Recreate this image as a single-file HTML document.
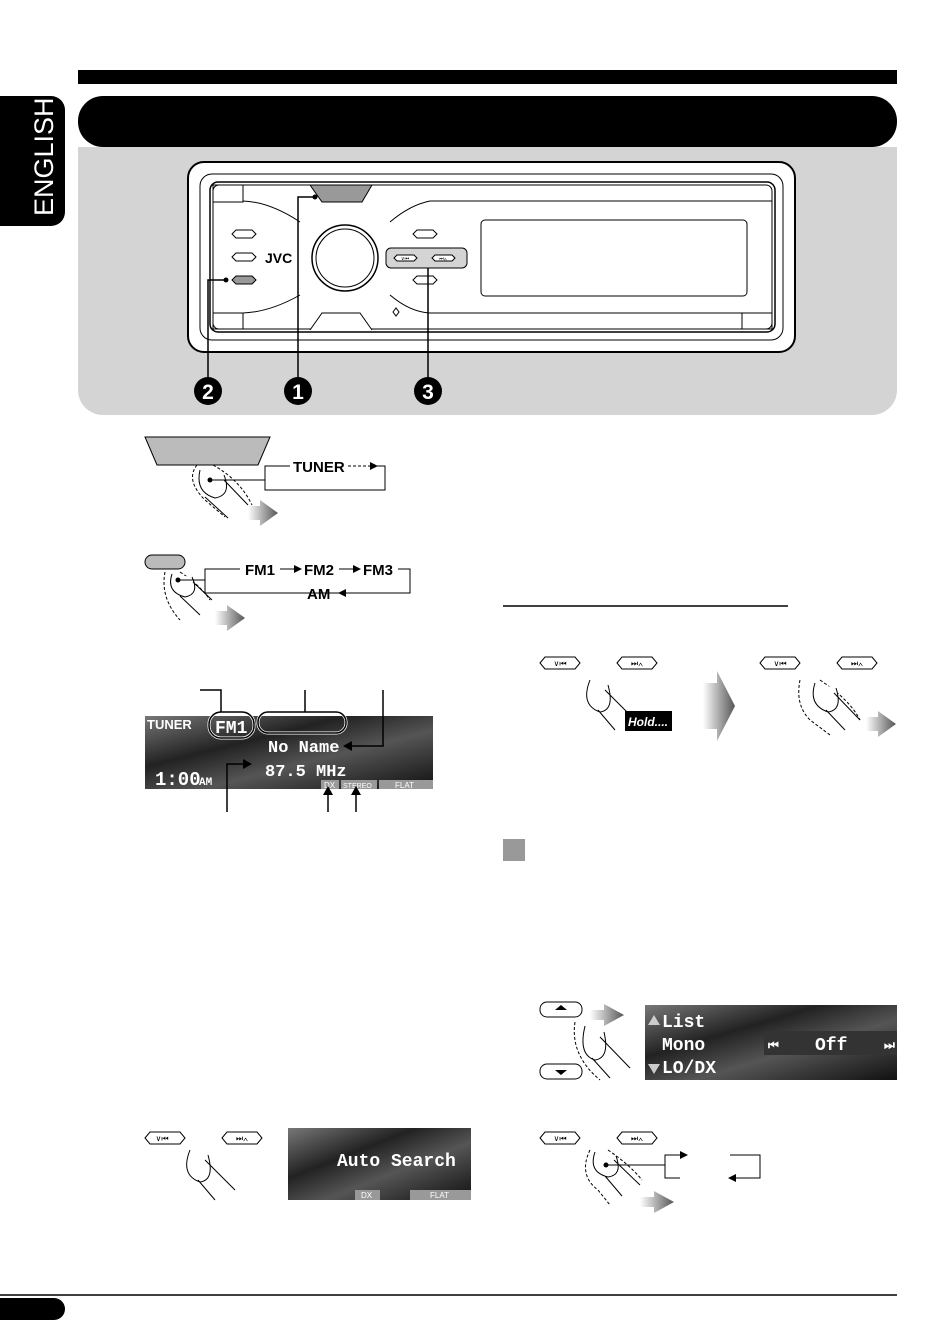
<!DOCTYPE html>
<html><head><style>
html,body{margin:0;padding:0;background:#fff;}
svg{display:block;font-family:"Liberation Sans",sans-serif;}
.d{font-family:"Liberation Mono",monospace;font-weight:bold;fill:#fff;}
</style></head><body>
<svg width="950" height="1344" viewBox="0 0 950 1344" xmlns="http://www.w3.org/2000/svg">
<defs>
<linearGradient id="lcd" x1="0" y1="0" x2="1" y2="1">
<stop offset="0" stop-color="#777"/><stop offset="0.35" stop-color="#222"/><stop offset="0.6" stop-color="#555"/><stop offset="1" stop-color="#111"/>
</linearGradient>
<linearGradient id="ar" x1="0" x2="1"><stop offset="0" stop-color="#fff"/><stop offset="1" stop-color="#555"/></linearGradient>
</defs>
<rect x="78" y="70" width="819" height="14" fill="#000"/>
<rect x="78" y="96" width="819" height="51" rx="25" fill="#000"/>
<rect x="0" y="96" width="65" height="130" rx="14" fill="#000"/>
<rect x="0" y="96" width="20" height="130" fill="#000"/>
<text x="0" y="0" transform="translate(53,216) rotate(-90)" fill="#fff" font-size="27">ENGLISH</text>
<path d="M78 147 H897 V390 a25 25 0 0 1 -25 25 H103 a25 25 0 0 1 -25 -25 Z" fill="#d4d4d4"/>
<rect x="188" y="162" width="607" height="190" rx="16" fill="#fff" stroke="#000" stroke-width="2"/>
<rect x="200" y="174" width="583" height="166" rx="12" fill="none" stroke="#000" stroke-width="1"/>
<rect x="210" y="182" width="565" height="150" rx="8" fill="none" stroke="#000" stroke-width="1.5"/>
<rect x="213" y="185" width="559" height="144" rx="6" fill="none" stroke="#000" stroke-width="1"/>
<rect x="213" y="185" width="30" height="17" fill="none" stroke="#000"/>
<rect x="213" y="313" width="30" height="16" fill="none" stroke="#000"/>
<rect x="742" y="313" width="30" height="16" fill="none" stroke="#000"/>
<path d="M243 201 Q270 202 300 222 M243 313 Q270 312 300 295 M390 222 Q410 205 430 201 H772 M390 295 Q410 312 430 313 H742" fill="none" stroke="#000"/>
<path d="M310 185 H372 L362 202 H322 Z" fill="#999" stroke="#000"/>
<path d="M310 330 L322 313 H360 L372 330" fill="#fff" stroke="#000"/>
<circle cx="345" cy="258" r="33" fill="#fff" stroke="#000" stroke-width="1.5"/>
<circle cx="345" cy="258" r="29" fill="none" stroke="#000"/>
<rect x="481" y="220" width="266" height="76" rx="4" fill="#fff" stroke="#000"/>
<path d="M232 234 l4 -4 h16 l4 4 l-4 4 h-16 z M232 257 l4 -4 h16 l4 4 l-4 4 h-16 z M413 234 l4 -4 h16 l4 4 l-4 4 h-16 z M413 280 l4 -4 h16 l4 4 l-4 4 h-16 z" fill="#fff" stroke="#000"/>
<path d="M232 280 l4 -4 h16 l4 4 l-4 4 h-16 z" fill="#999" stroke="#000"/>
<text x="265" y="263" font-size="14" font-weight="bold">JVC</text>
<rect x="386" y="248" width="81" height="20" rx="5" fill="#d4d4d4" stroke="#000"/>
<path d="M394 258 l3 -3 h17 l3 3 l-3 3 h-17 z M432 258 l3 -3 h17 l3 3 l-3 3 h-17 z" fill="#fff" stroke="#000"/>
<g font-size="5" text-anchor="middle"><text x="405" y="260">∨⏮</text><text x="443" y="260">⏭∧</text></g>
<path d="M393 312 l3 -4 l3 4 l-3 4 z" fill="none" stroke="#000"/>
<path d="M208 378 V280 H226 M298 378 V197 H315 M428 378 V268" fill="none" stroke="#000" stroke-width="1.5"/>
<circle cx="226" cy="280" r="2.5"/><circle cx="315" cy="197" r="2.5"/>
<g font-size="21" font-weight="bold" fill="#fff" text-anchor="middle">
<circle cx="208" cy="391" r="14" fill="#000"/><text x="208" y="399">2</text>
<circle cx="298" cy="391" r="14" fill="#000"/><text x="298" y="399">1</text>
<circle cx="428" cy="391" r="14" fill="#000"/><text x="428" y="399">3</text>
</g>
<path d="M145 437 H270 L258 465 H157 Z" fill="#bbb" stroke="#000"/>
<path d="M197 465 Q185 480 205 500 L225 517 M213 465 Q240 480 252 505" fill="none" stroke="#000" stroke-dasharray="3 2"/>
<path d="M200 470 Q195 492 215 498 Q232 495 224 475 M224 480 L248 505 M205 497 L228 518" fill="#fff" stroke="#000"/>
<circle cx="210" cy="480" r="2.5"/>
<path d="M210 480 H265 V466 H290 M265 480 V490 H385 V466 H375" fill="none" stroke="#000"/>
<text x="293" y="472" font-size="15" font-weight="bold">TUNER</text>
<path d="M348 466 H370" stroke="#000" stroke-dasharray="3 2"/><path d="M370 462 l8 4 -8 4z"/>
<path d="M385 466 V490" stroke="#000" stroke-dasharray="3 2"/>
<path d="M248 506 h12 v-6 l18 13 -18 13 v-6 h-12z" fill="url(#ar)"/>
<rect x="145" y="555" width="40" height="14" rx="7" fill="#bbb" stroke="#000"/>
<path d="M165 572 Q160 598 180 620 M180 572 Q200 585 210 600" fill="none" stroke="#000" stroke-dasharray="3 2"/>
<path d="M172 574 Q166 592 185 597 Q200 594 192 577 M193 582 L212 600 M180 596 L200 615" fill="#fff" stroke="#000"/>
<circle cx="178" cy="580" r="2.5"/>
<path d="M178 580 H205 V569 H240 M205 580 V593 H410 V569 H398" fill="none" stroke="#000"/>
<g font-size="15" font-weight="bold"><text x="245" y="575">FM1</text><text x="304" y="575">FM2</text><text x="363" y="575">FM3</text><text x="307" y="599">AM</text></g>
<path d="M280 569 h14" stroke="#000"/><path d="M294 565 l8 4 -8 4z"/>
<path d="M339 569 h14" stroke="#000"/><path d="M353 565 l8 4 -8 4z"/>
<path d="M338 593 l8 -4 v8z" fill="#000"/>
<path d="M215 611 h12 v-6 l18 13 -18 13 v-6 h-12z" fill="url(#ar)"/>
<rect x="145" y="716" width="288" height="73" fill="url(#lcd)"/>
<text x="147" y="729" font-size="13" font-weight="bold" fill="#fff">TUNER</text>
<text x="155" y="785" class="d" font-size="19">1:00</text><text x="199" y="785" class="d" font-size="11">AM</text>
<rect x="209" y="712" width="45" height="26" rx="12" fill="none" stroke="#fff" stroke-width="3"/>
<rect x="209" y="712" width="45" height="26" rx="12" fill="none" stroke="#000" stroke-width="1.5"/>
<text x="215" y="733" class="d" font-size="18">FM1</text>
<rect x="258" y="712" width="88" height="21" rx="10" fill="none" stroke="#fff" stroke-width="3"/>
<rect x="258" y="712" width="88" height="21" rx="10" fill="none" stroke="#000" stroke-width="1.5"/>
<text x="268" y="752" class="d" font-size="17">No Name</text>
<text x="265" y="776" class="d" font-size="17">87.5 MHz</text>
<rect x="321" y="780" width="18" height="9" fill="#999"/><rect x="341" y="780" width="36" height="9" fill="#999"/><rect x="379" y="780" width="54" height="9" fill="#999"/>
<text x="324" y="788" font-size="8" fill="#fff">DX</text><text x="343" y="788" font-size="7" fill="#fff">STEREO</text><text x="395" y="788" font-size="8" fill="#fff">FLAT</text>
<path d="M200 690 H221 V712 M305 690 V712 M383 690 V746 H350 M227 812 V764 H245 M328 812 V792 M356 812 V792" fill="none" stroke="#000" stroke-width="1.5"/>
<path d="M343 746 l9 -5 v10z M252 764 l-9 -5 v10z M328 786 l-5 9 h10z M356 786 l-5 9 h10z" fill="#000"/>
<g fill="#fff" stroke="#000">
<path d="M145 1138 l5 -6 h30 l5 6 l-5 6 h-30 z"/><path d="M222 1138 l5 -6 h30 l5 6 l-5 6 h-30 z"/>
<path d="M540 1138 l5 -6 h30 l5 6 l-5 6 h-30 z"/><path d="M617 1138 l5 -6 h30 l5 6 l-5 6 h-30 z"/>
<path d="M540 663 l5 -6 h30 l5 6 l-5 6 h-30 z"/><path d="M617 663 l5 -6 h30 l5 6 l-5 6 h-30 z"/>
<path d="M760 663 l5 -6 h30 l5 6 l-5 6 h-30 z"/><path d="M837 663 l5 -6 h30 l5 6 l-5 6 h-30 z"/>
<rect x="540" y="1002" width="42" height="15" rx="7"/><rect x="540" y="1064" width="42" height="15" rx="7"/>
</g>
<g font-size="8" text-anchor="middle"><text x="162" y="1141">∨⏮</text><text x="242" y="1141">⏭∧</text><text x="560" y="1141">∨⏮</text><text x="637" y="1141">⏭∧</text><text x="560" y="666">∨⏮</text><text x="637" y="666">⏭∧</text><text x="780" y="666">∨⏮</text><text x="857" y="666">⏭∧</text></g>
<path d="M555 1010 l6 -5 6 5z M555 1070 l6 5 6 -5z"/>
<path d="M190 1150 Q180 1175 200 1182 Q215 1180 208 1155 M205 1160 L235 1190 M198 1180 L215 1200" fill="#fff" stroke="#000"/>
<path d="M590 680 Q580 705 600 712 Q615 710 608 685 M605 690 L635 720 M598 710 L615 730" fill="#fff" stroke="#000"/>
<rect x="625" y="711" width="47" height="20" fill="#000"/><text x="628" y="726" font-size="12" font-style="italic" font-weight="bold" fill="#fff">Hold....</text>
<path d="M703 683 h14 v-12 l18 35 -18 35 v-12 h-14z" fill="url(#ar)"/>
<path d="M800 680 Q795 705 810 720 L830 735 M820 680 Q850 700 860 720" fill="none" stroke="#000" stroke-dasharray="3 2"/>
<path d="M815 683 Q808 705 828 712 Q843 710 836 688 M834 693 L860 720 M826 710 L845 730" fill="#fff" stroke="#000"/>
<path d="M866 717 h12 v-6 l18 13 -18 13 v-6 h-12z" fill="url(#ar)"/>
<rect x="288" y="1128" width="183" height="72" fill="url(#lcd)"/>
<text x="337" y="1166" class="d" font-size="18">Auto Search</text>
<rect x="355" y="1190" width="25" height="10" fill="#999"/><rect x="410" y="1190" width="61" height="10" fill="#999"/>
<text x="361" y="1198" font-size="8" fill="#fff">DX</text><text x="430" y="1198" font-size="8" fill="#fff">FLAT</text>
<line x1="503" y1="606" x2="788" y2="606" stroke="#000" stroke-width="1.5"/>
<rect x="503" y="839" width="22" height="22" fill="#999"/>
<path d="M585 1026 Q578 1055 595 1060 Q610 1058 604 1032 M600 1037 L630 1068 M592 1058 L610 1078" fill="#fff" stroke="#000"/>
<path d="M575 1022 Q570 1055 600 1080" fill="none" stroke="#000" stroke-dasharray="3 2"/>
<path d="M590 1010 h14 v-6 l20 11 -20 11 v-6 h-14z" fill="url(#ar)"/>
<rect x="645" y="1005" width="252" height="75" fill="url(#lcd)"/>
<text x="662" y="1027" class="d" font-size="18">List</text><text x="662" y="1050" class="d" font-size="18">Mono</text><text x="662" y="1073" class="d" font-size="18">LO/DX</text>
<path d="M648 1025 l6 -10 6 10z M648 1064 l6 10 6 -10z" fill="#ccc"/>
<rect x="764" y="1031" width="133" height="24" fill="#333"/>
<text x="768" y="1049" class="d" font-size="12">⏮</text><text x="815" y="1050" class="d" font-size="18">Off</text><text x="884" y="1049" class="d" font-size="12">⏭</text>
<path d="M590 1150 Q578 1175 598 1190 L610 1205 M608 1150 Q630 1165 642 1180" fill="none" stroke="#000" stroke-dasharray="3 2"/>
<path d="M595 1152 Q588 1172 608 1177 Q623 1175 616 1156 M614 1160 L640 1185 M605 1176 L622 1196" fill="#fff" stroke="#000"/>
<circle cx="606" cy="1165" r="2.5"/>
<path d="M606 1165 H665 V1155 H680 M665 1165 V1178 H680 M730 1155 H760 V1178 H735" fill="none" stroke="#000"/>
<path d="M680 1151 l8 4 -8 4z M728 1178 l8 -4 v8z"/>
<path d="M640 1197 h14 v-6 l20 11 -20 11 v-6 h-14z" fill="url(#ar)"/>
<line x1="0" y1="1295" x2="897" y2="1295" stroke="#000" stroke-width="1.5"/>
<rect x="0" y="1298" width="65" height="22" rx="11" fill="#000"/><rect x="0" y="1298" width="20" height="22" fill="#000"/>
</svg>
</body></html>
